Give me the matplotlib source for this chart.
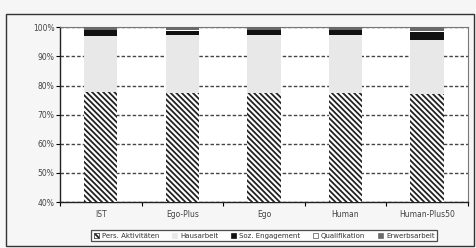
import matplotlib.pyplot as plt
from matplotlib.patches import Patch, Rectangle
import numpy as np

plt.rcParams['hatch.linewidth'] = 1.3

# Szenarien und Anteile (in %)
szenarien = ['IST', 'Ego-Plus', 'Ego', 'Human', 'Human-Plus50']
pers_aktivitaeten = [77.8, 77.5, 77.5, 77.5, 77.2]
soz_engagement = [1.8, 1.5, 1.6, 1.7, 2.8]
qualifikation = [0.3, 0.3, 0.3, 0.3, 0.4]
erwerbsarbeit = [0.8, 1.0, 0.8, 0.8, 1.2]
hausarbeit = [100 - p - s - q - e for p, s, q, e in
              zip(pers_aktivitaeten, soz_engagement, qualifikation, erwerbsarbeit)]

reihen = [
    ('Pers. Aktivitäten', pers_aktivitaeten, 'white', '\\' * 6),
    ('Hausarbeit', hausarbeit, '#e8e8e8', None),
    ('Soz. Engagement', soz_engagement, '#111111', None),
    ('Qualifikation', qualifikation, 'white', None),
    ('Erwerbsarbeit', erwerbsarbeit, '#6a6a6a', None),
]

fig = plt.figure(figsize=(4.76, 2.48), dpi=100, facecolor='#f6f6f6')
ax = fig.add_axes([0.126, 0.185, 0.857, 0.705])
ax.set_facecolor('white')

x = np.arange(len(szenarien))
bottom = np.zeros(len(szenarien))
for name, vals, color, hatch in reihen:
    ax.bar(x, vals, width=0.41, bottom=bottom, color=color,
           hatch=hatch, edgecolor='#222222' if hatch else color,
           linewidth=0, zorder=3)
    bottom += np.array(vals)

ax.set_ylim(40, 100)
ax.set_xlim(-0.5, len(szenarien) - 0.5)
ax.set_yticks(range(40, 101, 10))
ax.set_yticklabels([f'{v}%' for v in range(40, 101, 10)], fontsize=5.5, color='#444444')
ax.set_xticks(x)
ax.set_xticklabels(szenarien, fontsize=5.5, color='#444444')
ax.tick_params(axis='x', length=0, pad=6)
ax.tick_params(axis='y', length=3, width=0.8, pad=1)
ax.set_xticks(np.arange(-0.5, len(szenarien)), minor=True)
ax.tick_params(axis='x', which='minor', length=3, width=0.8)

ax.yaxis.grid(True, linestyle=(0, (2.5, 1.5)), color='#444444', linewidth=1.0, zorder=1)
ax.set_axisbelow(True)

for side in ['top', 'right']:
    ax.spines[side].set_color('#777777')
    ax.spines[side].set_linewidth(0.8)
for side in ['left', 'bottom']:
    ax.spines[side].set_color('#222222')
    ax.spines[side].set_linewidth(1.0)

handles = [Patch(facecolor=c, edgecolor='#222222' if h else ('#555555' if c == 'white' else c),
                 hatch=h, linewidth=0.5, label=n) for n, _, c, h in reihen]
leg = fig.legend(handles=handles, loc='center', bbox_to_anchor=(0.555, 0.05), ncol=5,
                 fontsize=5, frameon=True, fancybox=False, edgecolor='#222222',
                 handlelength=0.8, handleheight=0.8, handletextpad=0.4,
                 columnspacing=1.8, borderpad=0.3, borderaxespad=0)
leg.get_frame().set_linewidth(0.9)
for t in leg.get_texts():
    t.set_color('#333333')

fig.patches.append(Rectangle((0.013, 0.008), 0.983, 0.935, transform=fig.transFigure,
                             fill=False, edgecolor='#333333', linewidth=1.0))

fig.savefig('out.png', dpi=100, facecolor=fig.get_facecolor())
